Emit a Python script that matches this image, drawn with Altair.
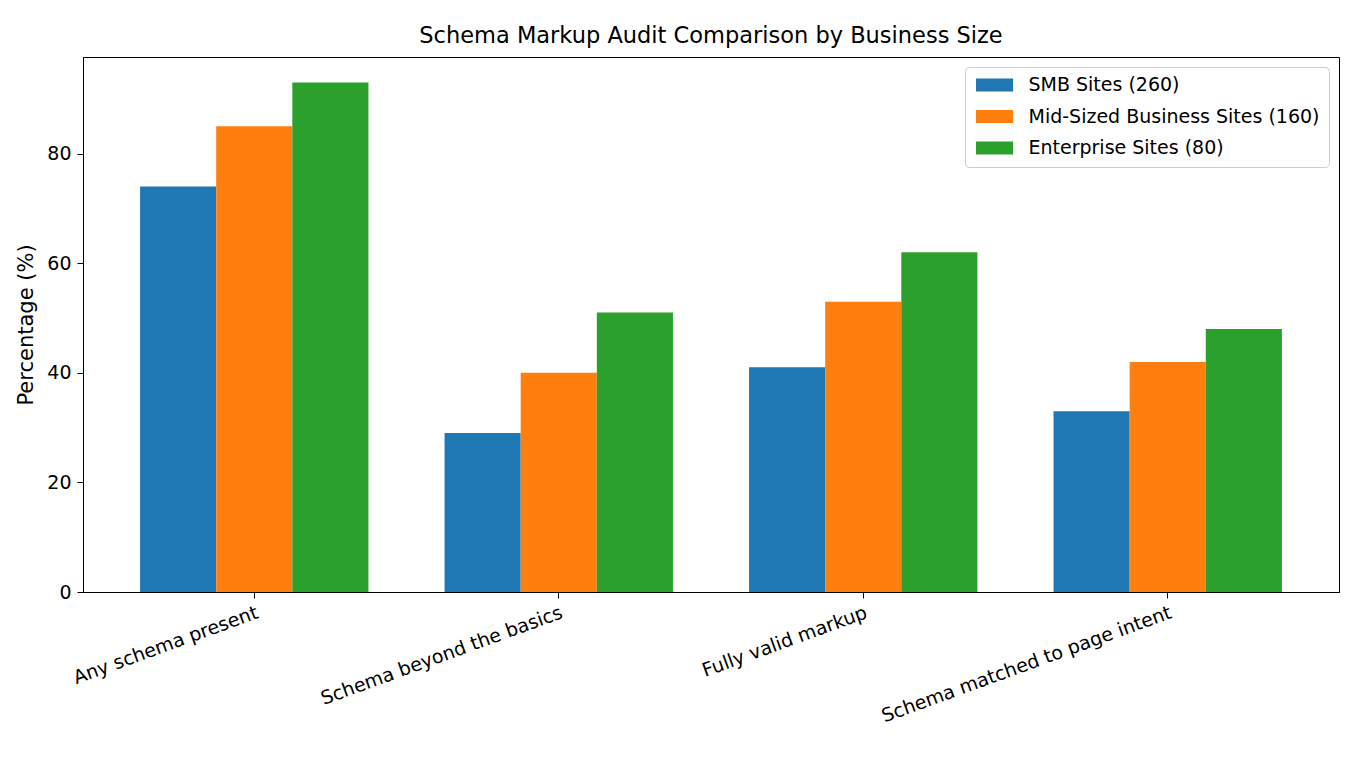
import altair as alt
import pandas as pd

categories = ["Any schema present", "Schema beyond the basics", "Fully valid markup", "Schema matched to page intent"]
series = ["SMB Sites (260)", "Mid-Sized Business Sites (160)", "Enterprise Sites (80)"]
smb = [74, 29, 41, 33]
mid = [85, 40, 53, 42]
ent = [93, 51, 62, 48]
colors = ["#1f77b4", "#ff7f0e", "#2ca02c"]

rows = []
for s, vals in zip(series, [smb, mid, ent]):
    for c, v in zip(categories, vals):
        rows.append({"category": c, "series": s, "value": v})
df = pd.DataFrame(rows)

FONT = "DejaVu Sans"

chart = alt.Chart(df).mark_bar().encode(
    x=alt.X("category:N", sort=categories, title=None,
            scale=alt.Scale(paddingInner=0.25, paddingOuter=0.1875),
            axis=alt.Axis(labelAngle=340, labelAlign="right", labelBaseline="top",
                          labelFontSize=19, labelPadding=5, tickSize=6, labelLimit=0,
                          labelColor="black", domainColor="black", tickColor="black")),
    xOffset=alt.XOffset("series:N", sort=series, scale=alt.Scale(paddingInner=0, paddingOuter=0)),
    y=alt.Y("value:Q", title="Percentage (%)",
            scale=alt.Scale(domain=[0, 97.65], nice=False, zero=True),
            axis=alt.Axis(values=[0, 20, 40, 60, 80], grid=False, labelFontSize=19,
                          titleFontSize=21, titleFontWeight="normal", titlePadding=10,
                          tickSize=6, labelPadding=6,
                          labelColor="black", titleColor="black",
                          domainColor="black", tickColor="black")),
    color=alt.Color("series:N", sort=series,
                    scale=alt.Scale(domain=series, range=colors),
                    legend=alt.Legend(title=None, orient="top-right", offset=10,
                                      symbolType="M-1,-0.93 L4.3,-0.93 L4.3,0.93 L-1,0.93 Z",
                                      symbolSize=196, symbolStrokeWidth=0,
                                      labelFontSize=19, labelOffset=36, rowPadding=11.5,
                                      labelLimit=0,
                                      padding=8.5, strokeColor="#cccccc", fillColor="white",
                                      cornerRadius=4, labelColor="black")),
).properties(
    width=1256,
    height=535,
    title=alt.TitleParams("Schema Markup Audit Comparison by Business Size",
                          fontSize=22.5, fontWeight="normal", color="black", offset=10, font=FONT),
    autosize=alt.AutoSizeParams(type="none"),
    padding={"left": 75, "top": 49, "right": 13, "bottom": 160},
).configure(
    font=FONT,
).configure_view(
    stroke="black", strokeWidth=1,
).configure_axis(
    labelFont=FONT, titleFont=FONT,
).configure_legend(
    labelFont=FONT,
)

chart.save("out.html", embed_options={"renderer": "svg", "actions": False})
